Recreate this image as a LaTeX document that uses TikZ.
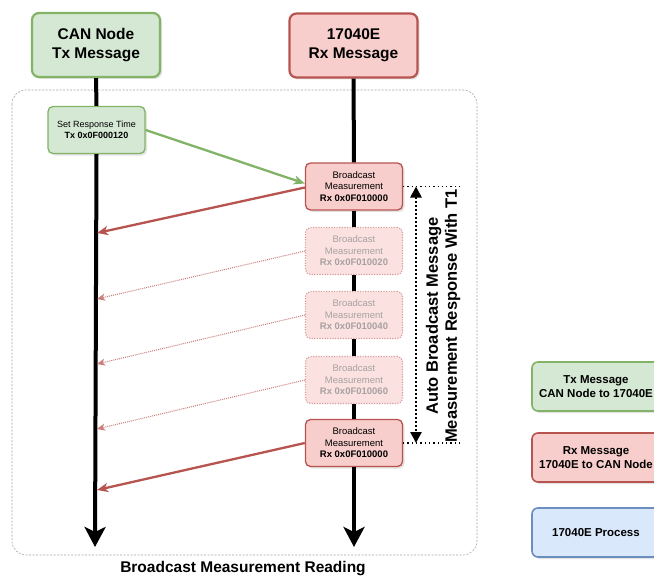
\documentclass[tikz,border=0pt]{standalone}
\usepackage{fontspec}
\setmainfont{Liberation Sans}
\usetikzlibrary{arrows.meta,shadows}

\definecolor{txfill}{HTML}{D5E8D4}
\definecolor{txline}{HTML}{82B366}
\definecolor{rxfill}{HTML}{F8CECC}
\definecolor{rxline}{HTML}{B85450}
\definecolor{prfill}{HTML}{DAE8FC}
\definecolor{prline}{HTML}{6C8EBF}
\definecolor{ghostfill}{HTML}{FBE2E1}
\definecolor{ghostline}{HTML}{D99A98}
\definecolor{ghosttext}{HTML}{A8A0A0}

\tikzset{
  boxshadow/.style={drop shadow={opacity=0.22,shadow xshift=2pt,shadow yshift=-2pt}},
  header/.style={draw,line width=2.2pt,rounded corners=7pt,minimum width=128pt,
    minimum height=64pt,align=center,inner sep=0pt,boxshadow,
    font=\fontsize{15.5}{19}\selectfont\bfseries},
  txhead/.style={header,fill=txfill,draw=txline},
  rxhead/.style={header,fill=rxfill,draw=rxline},
  msgbox/.style={draw,line width=1.3pt,rounded corners=5pt,minimum width=97pt,
    minimum height=47pt,align=center,inner sep=0pt,boxshadow,
    font=\fontsize{9.5}{11.5}\selectfont},
  txmsg/.style={msgbox,fill=txfill,draw=txline,font=\fontsize{9}{11.5}\selectfont},
  rxmsg/.style={msgbox,fill=rxfill,draw=rxline},
  ghostmsg/.style={draw=ghostline,fill=ghostfill,line width=1.1pt,
    dash pattern=on 1.2pt off 1.4pt,rounded corners=5pt,minimum width=97pt,
    minimum height=47pt,align=center,inner sep=0pt,text=ghosttext,
    font=\fontsize{9.5}{11.5}\selectfont},
  legendbox/.style={draw,line width=1.6pt,rounded corners=6pt,minimum width=128pt,
    minimum height=49pt,align=center,inner sep=0pt,boxshadow,
    font=\fontsize{11.5}{14}\selectfont\bfseries},
  lifeline/.style={line width=4pt,black},
  lifeend/.style={lifeline,-{Stealth[length=20pt,width=21pt,inset=5pt]}},
  txarrow/.style={draw=txline,line width=2.3pt,-{Stealth[length=11pt,width=9pt,inset=3pt]}},
  rxarrow/.style={draw=rxline,line width=2.3pt,-{Stealth[length=11pt,width=9pt,inset=3pt]}},
  ghostarrow/.style={draw=rxline!75,line width=1pt,dash pattern=on 1pt off 1pt,
    -{Stealth[length=8pt,width=7pt,inset=2pt]}},
  spanline/.style={line width=1.3pt,dash pattern=on 1.3pt off 3pt},
  spanarrow/.style={line width=2.6pt,dash pattern=on 2.2pt off 1.8pt,
    {Triangle[length=11pt,width=11pt]}-{Triangle[length=11pt,width=11pt]}},
  frame/.style={draw=gray!70,line width=0.6pt,dash pattern=on 2pt off 1.5pt,rounded corners=14pt}
}

\begin{document}
\begin{tikzpicture}[x=1pt,y=-1pt]
\useasboundingbox[fill=white] (0,0) rectangle (654,578);

% sequence frame
\draw[frame] (12,90) rectangle (477,555);

% participants
\node[txhead] (canhdr) at (96,45) {CAN Node\\Tx Message};
\node[rxhead] (rxhdr) at (353.5,45.5) {17040E\\Rx Message};

% messages
\node[txmsg] (setrt) at (96.5,130) {Set Response Time\\\textbf{Tx 0x0F000120}};
\node[rxmsg] (bm1) at (354,186.5) {Broadcast\\Measurement\\\textbf{Rx 0x0F010000}};
\node[ghostmsg] (bm2) at (354,251) {Broadcast\\Measurement\\\textbf{Rx 0x0F010020}};
\node[ghostmsg] (bm3) at (354,315) {Broadcast\\Measurement\\\textbf{Rx 0x0F010040}};
\node[ghostmsg] (bm4) at (354,380) {Broadcast\\Measurement\\\textbf{Rx 0x0F010060}};
\node[rxmsg] (bm5) at (354,443) {Broadcast\\Measurement\\\textbf{Rx 0x0F010000}};

% lifeline ends and arrival points
\coordinate (canend) at (95,547);
\coordinate (rxend) at (354,547);
\coordinate (hit1) at (97,233);
\coordinate (hit2) at (97,299);
\coordinate (hit3) at (97,364);
\coordinate (hit4) at (97,429);
\coordinate (hit5) at (97,490);

% lifelines
\draw[lifeline] (canhdr.south) -- (setrt.north);
\draw[lifeend] (setrt.south) -- (canend);
\draw[lifeline] (rxhdr.south) -- (bm1.north);
\draw[lifeline] (bm1.south) -- (bm2.north);
\draw[lifeline] (bm2.south) -- (bm3.north);
\draw[lifeline] (bm3.south) -- (bm4.north);
\draw[lifeline] (bm4.south) -- (bm5.north);
\draw[lifeend] (bm5.south) -- (rxend);

% message arrows
\draw[txarrow] (setrt.east) -- ([yshift=3pt]bm1.west);
\draw[rxarrow] ([yshift=-1pt]bm1.west) -- (hit1);
\draw[ghostarrow] (bm2.west) -- (hit2);
\draw[ghostarrow] (bm3.west) -- (hit3);
\draw[ghostarrow] (bm4.west) -- (hit4);
\draw[rxarrow] (bm5.west) -- (hit5);

% broadcast period marker
\coordinate (spantop) at (462,186.5);
\coordinate (spanbot) at (462,443);
\coordinate (arrtop) at (416,186.5);
\coordinate (arrbot) at (416,443);
\draw[spanline] (bm1.east) -- (spantop);
\draw[spanline] (bm5.east) -- (spanbot);
\draw[spanarrow] (arrtop) -- (arrbot);
\node[rotate=90,align=center,font=\fontsize{16.5}{19}\selectfont\bfseries] (period) at (443,316)
  {Auto Broadcast Message\\Measurement Response With T1};

% caption
\node[font=\fontsize{15.5}{18}\selectfont\bfseries] (caption) at (243,569) {Broadcast Measurement Reading};

% legend
\node[legendbox,fill=txfill,draw=txline] (legtx) at (596,386.5) {Tx Message\\CAN Node to 17040E};
\node[legendbox,fill=rxfill,draw=rxline] (legrx) at (596,457.5) {Rx Message\\17040E to CAN Node};
\node[legendbox,fill=prfill,draw=prline] (legpr) at (596,532.5) {17040E Process};
\end{tikzpicture}
\end{document}
